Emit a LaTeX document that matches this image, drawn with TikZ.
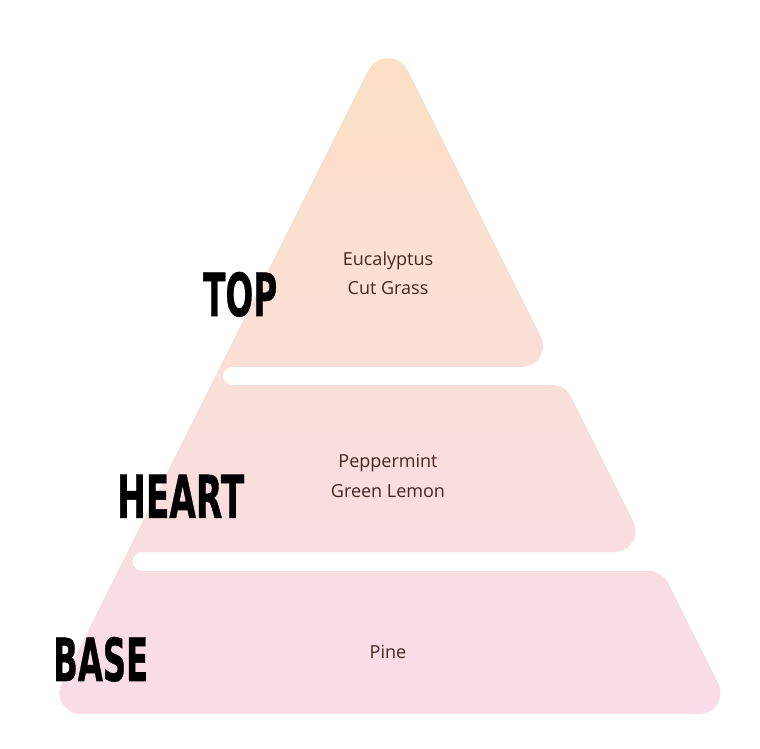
\documentclass[tikz,border=0pt]{standalone}
\usepackage{fontspec}
\setmainfont{Open Sans}
\newfontfamily\titlefont[FakeBold=1]{DejaVu Sans Bold}
\definecolor{peach}{RGB}{251,224,198}
\definecolor{midpink}{RGB}{250,223,216}
\definecolor{basepink}{RGB}{250,220,234}
\definecolor{notetext}{RGB}{72,38,32}
\begin{document}
\begin{tikzpicture}[x=1pt,y=-1pt,
  note/.style={font=\fontsize{18}{22}\selectfont, text=notetext, inner sep=0pt, anchor=base},
  level/.style={inner sep=0pt, anchor=south west}]
\useasboundingbox (0,0) rectangle (760,749);
% pyramid body (image coordinates, y downwards)
\shade[top color=peach, middle color=midpink, bottom color=basepink]
  (368.32,70.35) arc[start angle=206.57, end angle=333.43, radius=22]
  -- (540.8,336.61) arc[start angle=-26.57, end angle=90, radius=21]
  -- (232,367) arc[start angle=270, end angle=90, radius=9]
  -- (552.02,385) arc[start angle=-90, end angle=-26.57, radius=21]
  -- (633.3,521.61) arc[start angle=-26.57, end angle=90, radius=21]
  -- (142,552) arc[start angle=270, end angle=90, radius=9.5]
  -- (649.02,571) arc[start angle=-90, end angle=-26.57, radius=21]
  -- (718.3,683.61) arc[start angle=-26.57, end angle=90, radius=21]
  -- (80.48,714) arc[start angle=90, end angle=206.57, radius=21]
  -- cycle;
% level titles
\node[level] (ttop) at (203,317) {\resizebox{74pt}{44pt}{\titlefont TOP}};
\node[level] (theart) at (117,518) {\resizebox{127pt}{43pt}{\titlefont HEART}};
\node[level] (tbase) at (53,682) {\resizebox{95pt}{44pt}{\titlefont BASE}};
% notes
\node[note] (n1) at (388,265) {Eucalyptus};
\node[note] (n2) at (388,294.5) {Cut Grass};
\node[note] (n3) at (388,467.5) {Peppermint};
\node[note] (n4) at (388,497.5) {Green Lemon};
\node[note] (n5) at (388,658) {Pine};
\end{tikzpicture}
\end{document}
